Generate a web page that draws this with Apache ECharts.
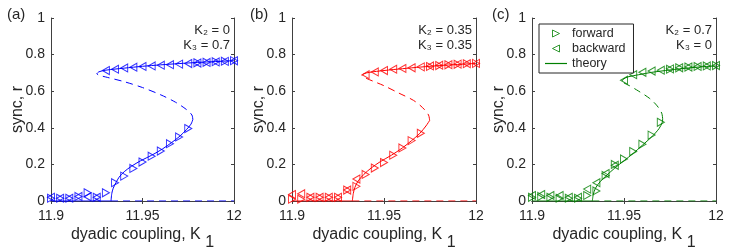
<!DOCTYPE html>
<html><head><meta charset="utf-8">
<script src="https://cdn.jsdelivr.net/npm/echarts@6/dist/echarts.min.js"></script>
<style>html,body{margin:0;padding:0;background:#fff}#c{width:747px;height:249px}</style>
</head><body><div id="c"></div>
<script>
// ---- data ----
const kSteps = [11.9,11.905,11.91,11.915,11.92,11.925,11.93,11.935,11.94,11.945,11.95,11.955,11.96,11.965,11.97,11.975,11.98,11.985,11.99,11.995,12];
const xTicks = [11.9, 11.95, 12];
const panelLabels = ['(a)', '(b)', '(c)'];
const k2Labels = ['K\u2082 = 0', 'K\u2082 = 0.35', 'K\u2082 = 0.7'];
const k3Labels = ['K\u2083 = 0.7', 'K\u2083 = 0.35', 'K\u2083 = 0'];

// panel (a): K2=0, K3=0.7
const fwdA = [0.015,0.015,0.015,0.025,0.045,0.02,0.045,0.10,0.136,0.178,0.213,0.245,0.273,0.313,0.35,0.396,0.755,0.758,0.761,0.764,0.767];
const bwdA = [0.02,0.015,0.015,0.025,0.023,0.02,0.713,0.72,0.727,0.731,0.735,0.738,0.742,0.745,0.748,0.751,0.754,0.757,0.76,0.763,0.766];
const thLowA = [[11.9328,0],[11.9332,0.04],[11.934,0.07],[11.9355,0.10],[11.9372,0.13],[11.94,0.16],[11.944,0.19],[11.949,0.22],[11.955,0.25],[11.961,0.285],[11.966,0.32],[11.9705,0.355],[11.974,0.39],[11.9765,0.42],[11.9775,0.445]];
const thMidA = [[11.9775,0.445],[11.977,0.47],[11.974,0.50],[11.968,0.54],[11.96,0.58],[11.95,0.62],[11.94,0.652],[11.931,0.675],[11.926,0.688],[11.925,0.695]];
const thUpA = [[11.925,0.695],[11.9262,0.706],[11.93,0.715],[11.94,0.726],[11.95,0.736],[11.96,0.744],[11.97,0.751],[11.98,0.757],[11.99,0.762],[12,0.767]];

// panel (b): K2=0.35, K3=0.35
const fwdB = [0.01,0.01,0.02,0.02,0.02,0.02,0.06,0.08,0.145,0.18,0.21,0.25,0.29,0.33,0.37,0.735,0.74,0.744,0.747,0.75,0.752];
const bwdB = [0.035,0.04,0.02,0.02,0.02,0.02,0.06,0.12,0.69,0.705,0.713,0.72,0.724,0.728,0.733,0.738,0.742,0.745,0.748,0.75,0.752];
const thLowB = [[11.9328,0],[11.9333,0.04],[11.9342,0.075],[11.936,0.11],[11.939,0.145],[11.943,0.18],[11.948,0.215],[11.954,0.25],[11.96,0.29],[11.965,0.33],[11.9695,0.37],[11.9728,0.41],[11.9748,0.44]];
const thMidB = [[11.9748,0.44],[11.9742,0.47],[11.971,0.51],[11.966,0.55],[11.958,0.59],[11.95,0.63],[11.944,0.655],[11.94,0.672],[11.938,0.685]];
const thUpB = [[11.938,0.685],[11.939,0.695],[11.942,0.703],[11.95,0.713],[11.96,0.723],[11.97,0.732],[11.98,0.74],[11.99,0.746],[12,0.752]];

// panel (c): K2=0.7, K3=0
const fwdC = [0.02,0.025,0.02,0.015,0.015,0.015,0.03,0.055,0.14,0.2,0.23,0.27,0.31,0.36,0.43,0.72,0.728,0.732,0.735,0.738,0.74];
const bwdC = [0.03,0.035,0.03,0.03,0.02,0.02,0.065,0.10,0.15,0.195,0.66,0.69,0.703,0.71,0.715,0.722,0.728,0.732,0.735,0.738,0.74];
const thLowC = [[11.9328,0],[11.9333,0.035],[11.9345,0.07],[11.937,0.105],[11.94,0.135],[11.945,0.18],[11.95,0.22],[11.955,0.26],[11.96,0.305],[11.965,0.35],[11.969,0.395],[11.9708,0.43],[11.971,0.45]];
const thMidC = [[11.971,0.45],[11.9705,0.48],[11.968,0.52],[11.964,0.56],[11.958,0.6],[11.953,0.63],[11.95,0.645],[11.949,0.655]];
const thUpC = [[11.949,0.655],[11.9495,0.665],[11.952,0.678],[11.958,0.69],[11.965,0.703],[11.975,0.716],[11.985,0.727],[11.993,0.734],[12,0.738]];

const kCrit = 11.9328;
const kMin = 11.9, kMax = 12;

// ---- chart ----
const FONT = '"Liberation Sans", Arial, sans-serif';
const TXT = '#262626';
const AX = '#404040';
const colors = ['#0000ff', '#ff0000', '#008000'];
const panels = [
  {fwd: fwdA, bwd: bwdA, low: thLowA, mid: thMidA, up: thUpA},
  {fwd: fwdB, bwd: bwdB, low: thLowB, mid: thMidB, up: thUpB},
  {fwd: fwdC, bwd: bwdC, low: thLowC, mid: thMidC, up: thUpC}
];
const gridsPos = [
  {left: 51, top: 18, width: 183, height: 183},
  {left: 292, top: 18, width: 184, height: 183},
  {left: 532, top: 18, width: 184, height: 183}
];
const triR = 'path://M0,0L10,5L0,10Z';
const triL = 'path://M10,0L0,5L10,10Z';

const grid = [], xAxis = [], yAxis = [], series = [], graphic = [];
gridsPos.forEach((g, i) => {
  grid.push(Object.assign({containLabel: false, outerBoundsMode: 'none'}, g));
  const lineS = {show: true, lineStyle: {color: AX, width: 1}};
  const tickS = {show: true, inside: true, length: 3, lineStyle: {color: AX}};
  xAxis.push({
    gridIndex: i, type: 'value', min: kMin, max: kMax, position: 'bottom',
    axisLine: lineS,
    axisTick: Object.assign({customValues: xTicks}, tickS),
    axisLabel: {customValues: xTicks, formatter: v => String(+(+v).toFixed(3)), fontSize: 14, color: TXT, fontFamily: FONT, margin: 8},
    splitLine: {show: false},
    name: '{t|dyadic coupling, K }{s|1}', nameLocation: 'middle', nameGap: 18, nameMoveOverlap: false,
    nameTextStyle: {verticalAlign: 'top', rich: {t: {fontSize: 16, color: TXT, fontFamily: FONT}, s: {fontSize: 16, color: TXT, fontFamily: FONT, padding: [16, 0, 0, 0]}}}
  });
  xAxis.push({
    gridIndex: i, type: 'value', min: kMin, max: kMax, position: 'top',
    axisLine: lineS, axisTick: Object.assign({customValues: xTicks}, tickS),
    axisLabel: {show: false}, splitLine: {show: false}
  });
  yAxis.push({
    gridIndex: i, type: 'value', min: 0, max: 1, interval: 0.2, position: 'left',
    axisLine: lineS, axisTick: tickS,
    axisLabel: {fontSize: 14, color: TXT, fontFamily: FONT, margin: 6},
    splitLine: {show: false},
    name: 'sync, r', nameLocation: 'middle', nameGap: 25, nameMoveOverlap: false,
    nameTextStyle: {fontSize: 16, color: TXT, fontFamily: FONT}
  });
  yAxis.push({
    gridIndex: i, type: 'value', min: 0, max: 1, interval: 0.2, position: 'right',
    axisLine: lineS, axisTick: tickS, axisLabel: {show: false}, splitLine: {show: false}
  });

  const p = panels[i], c = colors[i];
  const xi = i * 2, yi = i * 2;
  const isC = i === 2;
  const solid = {color: c, width: 1, type: 'solid'};
  const dashed = {color: c, width: 1, type: [7, 5]};
  const lineBase = {type: 'line', xAxisIndex: xi, yAxisIndex: yi, symbol: 'none', smooth: 0.3, silent: true, z: 2, itemStyle: {color: c}};
  series.push(Object.assign({}, lineBase, {name: 'zero-solid-' + i, data: [[kMin, 0], [kCrit, 0]], lineStyle: solid, smooth: false}));
  series.push(Object.assign({}, lineBase, {name: 'zero-dash-' + i, data: [[kCrit, 0], [kMax, 0]], lineStyle: dashed, smooth: false}));
  series.push(Object.assign({}, lineBase, {name: isC ? 'theory' : 'theory-' + i, data: p.low, lineStyle: solid}));
  series.push(Object.assign({}, lineBase, {name: 'unstable-' + i, data: p.mid, lineStyle: dashed}));
  series.push(Object.assign({}, lineBase, {name: 'upper-' + i, data: p.up, lineStyle: solid}));
  const mk = {color: 'rgba(255,255,255,0)', borderColor: c, borderWidth: 1};
  series.push({type: 'scatter', name: isC ? 'forward' : 'forward-' + i, xAxisIndex: xi, yAxisIndex: yi,
    symbol: triR, symbolSize: [7, 8], itemStyle: mk, z: 3, silent: true,
    data: kSteps.map((k, j) => [k, p.fwd[j]])});
  series.push({type: 'scatter', name: isC ? 'backward' : 'backward-' + i, xAxisIndex: xi, yAxisIndex: yi,
    symbol: triL, symbolSize: [7, 8], itemStyle: mk, z: 3, silent: true,
    data: kSteps.map((k, j) => [k, p.bwd[j]])});

  const right = g.left + g.width - 4;
  graphic.push({type: 'text', x: right, y: 30, style: {text: k2Labels[i], align: 'right', verticalAlign: 'middle', fontSize: 13, fontFamily: FONT, fill: TXT}});
  graphic.push({type: 'text', x: right, y: 45, style: {text: k3Labels[i], align: 'right', verticalAlign: 'middle', fontSize: 13, fontFamily: FONT, fill: TXT}});
});
graphic.push({type: 'text', x: 7, y: 15, style: {text: panelLabels[0], verticalAlign: 'middle', fontSize: 15, fontFamily: FONT, fill: TXT}});
graphic.push({type: 'text', x: 250, y: 15, style: {text: panelLabels[1], verticalAlign: 'middle', fontSize: 15, fontFamily: FONT, fill: TXT}});
graphic.push({type: 'text', x: 492, y: 15, style: {text: panelLabels[2], verticalAlign: 'middle', fontSize: 15, fontFamily: FONT, fill: TXT}});

const G = colors[2];
const hollowG = {color: 'rgba(255,255,255,0)', borderColor: G, borderWidth: 1};
const chart = echarts.init(document.getElementById('c'), null, {renderer: 'canvas'});
chart.setOption({
  animation: false,
  backgroundColor: '#fff',
  grid, xAxis, yAxis, series, graphic,
  legend: {
    show: true, left: 539, top: 24, orient: 'vertical',
    data: [
      {name: 'forward', icon: triR, itemStyle: hollowG},
      {name: 'backward', icon: triL, itemStyle: hollowG},
      {name: 'theory', icon: 'path://M0,0L44,0L44,2.4L0,2.4Z', itemStyle: {color: G, borderWidth: 0}}
    ],
    backgroundColor: '#fff', borderColor: TXT, borderWidth: 1,
    padding: [3, 8, 3, 6], itemGap: 2, itemWidth: 22, itemHeight: 7,
    textStyle: {fontSize: 12.5, color: TXT, fontFamily: FONT},
    selectedMode: false
  }
});
</script>
</body></html>
